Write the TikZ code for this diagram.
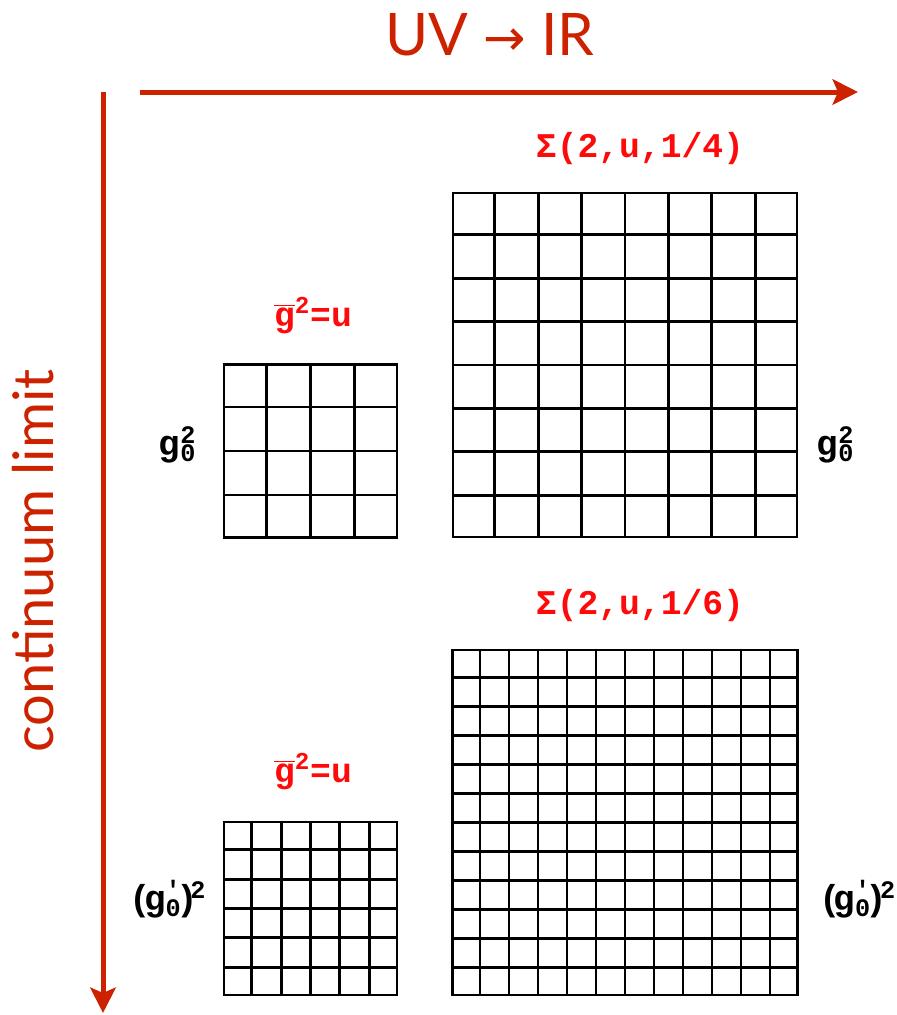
\documentclass[tikz,border=0pt]{standalone}
\usepackage{fontspec}
\setmainfont{Lato}
\newfontfamily\labelfont{Liberation Mono}[UprightFont={* Bold}]
\newfontfamily\symbolfont{DejaVu Sans}
\usetikzlibrary{arrows.meta}
\usetikzlibrary{calc}
\usetikzlibrary{positioning}

\definecolor{flowred}{RGB}{204,34,0}
\definecolor{labelred}{RGB}{255,10,10}

\tikzset{
    axis/.style={flowred, line width=3.75pt, -{Stealth[length=19pt, width=19pt, inset=4pt]}},
    axislabel/.style={flowred, font=\fontsize{44}{50}\selectfont, inner sep=0pt},
    lattice/.style={draw, line width=2.2pt, inner sep=0pt, minimum size=#1*0.75pt},
    gridline/.style={line width=2.2pt},
    couplinglabel/.style={labelred, font=\labelfont\fontsize{26}{30}\selectfont, inner sep=0pt},
    barelabel/.style={black, font=\labelfont\fontsize{27}{30}\selectfont, inner sep=0pt}
}

\newcommand{\gbar}{$\overline{\hbox{g}}$}
\newcommand{\gzero}{g\rlap{\textsuperscript{2}}\textsubscript{0}}
\newcommand{\gzeroprime}{(\kern-.2em g\rlap{\textsuperscript{'}}\textsubscript{0}\kern-.15em)\kern-.2em\textsuperscript{2}}

\begin{document}
\begin{tikzpicture}[x=0.75pt, y=-0.75pt]
    \useasboundingbox (0,0) rectangle (897,1015);

    % Axes
    \coordinate (UV) at (140,92);
    \coordinate (IR) at (858,92);
    \coordinate (fine) at (103,92);
    \coordinate (coarse) at (103,1013);

    \draw [axis] (UV) -- (IR);
    \draw [axis] (fine) -- (coarse);

    \node [axislabel] (flow) at (490,35) {UV {\symbolfont\fontsize{38}{40}\selectfont →} IR};
    \node [axislabel, rotate=90, font=\fontsize{42}{50}\selectfont] (climit) at (33,561) {continuum limit};

    % Lattices
    \node [lattice=173] (small) at (310.5,451) {};
    \node [lattice=344] (big) at (625,365) {};
    \node [lattice=173] (smallfine) at (310.5,908.5) {};
    \node [lattice=345] (bigfine) at (625,822.5) {};

    % Grid lines
    \foreach \k in {1,...,3} {
        \draw [gridline] ($(small.north west)!\k/4!(small.north east)$) -- ($(small.south west)!\k/4!(small.south east)$);
        \draw [gridline] ($(small.north west)!\k/4!(small.south west)$) -- ($(small.north east)!\k/4!(small.south east)$);
    }
    \foreach \k in {1,...,7} {
        \draw [gridline] ($(big.north west)!\k/8!(big.north east)$) -- ($(big.south west)!\k/8!(big.south east)$);
        \draw [gridline] ($(big.north west)!\k/8!(big.south west)$) -- ($(big.north east)!\k/8!(big.south east)$);
    }
    \foreach \k in {1,...,5} {
        \draw [gridline] ($(smallfine.north west)!\k/6!(smallfine.north east)$) -- ($(smallfine.south west)!\k/6!(smallfine.south east)$);
        \draw [gridline] ($(smallfine.north west)!\k/6!(smallfine.south west)$) -- ($(smallfine.north east)!\k/6!(smallfine.south east)$);
    }
    \foreach \k in {1,...,11} {
        \draw [gridline] ($(bigfine.north west)!\k/12!(bigfine.north east)$) -- ($(bigfine.south west)!\k/12!(bigfine.south east)$);
        \draw [gridline] ($(bigfine.north west)!\k/12!(bigfine.south west)$) -- ($(bigfine.north east)!\k/12!(bigfine.south east)$);
    }

    % Renormalized couplings and step scaling
    \node [couplinglabel, anchor=base] (gsmall) at (313,326) {\gbar\textsuperscript{2}=u};
    \node [couplinglabel, anchor=base] (sigma) at (640,157) {Σ(2,u,1/4)};
    \node [couplinglabel, anchor=base] (gsmallfine) at (313,782) {\gbar\textsuperscript{2}=u};
    \node [couplinglabel, anchor=base] (sigmafine) at (640,614) {Σ(2,u,1/6)};

    % Bare couplings
    \node [barelabel, anchor=east] (bare) at ($(small.west)+(-26,-6)$) {\gzero};
    \node [barelabel, anchor=west] (barebig) at ($(big.east |- small.west)+(18,-6)$) {\gzero};
    \node [barelabel, anchor=east] (barefine) at ($(smallfine.west)+(-16,-9)$) {\gzeroprime};
    \node [barelabel, anchor=west] (barebigfine) at ($(bigfine.east |- smallfine.west)+(20,-9)$) {\gzeroprime};

\end{tikzpicture}
\end{document}
